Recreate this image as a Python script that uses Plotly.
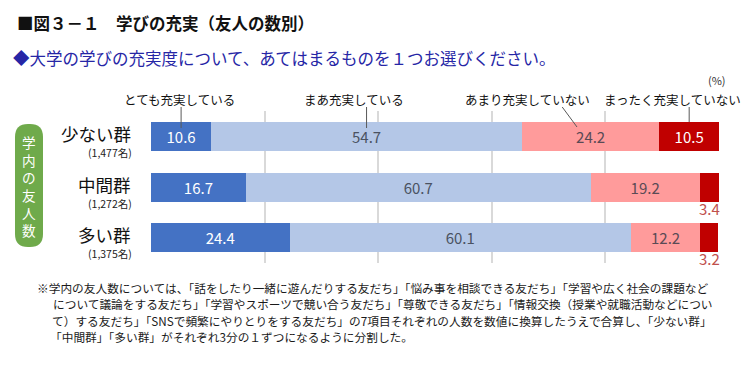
import plotly.graph_objects as go

# ---------------- data ----------------
groups = ["少ない群", "中間群", "多い群"]
group_counts = ["(1,477名)", "(1,272名)", "(1,375名)"]
series_names = ["とても充実している", "まあ充実している", "あまり充実していない", "まったく充実していない"]
very = [10.6, 16.7, 24.4]
somewhat = [54.7, 60.7, 60.1]
not_much = [24.2, 19.2, 12.2]
not_at_all = [10.5, 3.4, 3.2]
x_ticks = [0, 20, 40, 60, 80, 100]

title = "■図３－１　学びの充実（友人の数別）"
subtitle = "◆大学の学びの充実度について、あてはまるものを１つお選びください。"
side_label = "学内の友人数"
footnote = [
    "※学内の友人数については、「話をしたり一緒に遊んだりする友だち」「悩み事を相談できる友だち」「学習や広く社会の課題など",
    "について議論をする友だち」「学習やスポーツで競い合う友だち」「尊敬できる友だち」「情報交換（授業や就職活動などについ",
    "て）する友だち」「SNSで頻繁にやりとりをする友だち」の7項目それぞれの人数を数値に換算したうえで合算し、「少ない群」",
    "「中間群」「多い群」がそれぞれ3分の１ずつになるように分割した。",
]

colors = ["#4472C4", "#B4C7E7", "#FF9B9B", "#C00000"]
text_colors = ["white", "#4a5262", "#5a4a55", "white"]

# ---------------- layout geometry (reference pixel coords; page body has 8px margin) ----------------
OFF = 8
W, H = 756 - OFF, 375 - OFF
PX0, PX1, PY0, PY1 = 151, 719, 111, 263          # plot area in page pixels
L, R, T, B = PX0 - OFF, 756 - PX1, PY0 - OFF, 375 - PY1
PW, PH = PX1 - PX0, PY1 - PY0


def px(xp):
    return (xp - PX0) / PW


def py(yp):
    return (PY1 - yp) / PH


FONT = "Noto Sans CJK JP"

fig = go.Figure()
all_series = [very, somewhat, not_much, not_at_all]
for name, vals, c, tc in zip(series_names, all_series, colors, text_colors):
    texts = [f"{v:.1f}" if v >= 5 else "" for v in vals]
    fig.add_trace(go.Bar(
        y=groups, x=vals, name=name, orientation="h",
        marker=dict(color=c, line=dict(width=0)),
        text=texts, textposition="inside", insidetextanchor="middle",
        textfont=dict(family=FONT, size=15, color=tc),
        hoverinfo="skip",
    ))

annotations = []
# small values below bars
for g, v in zip(groups, not_at_all):
    if v < 5:
        annotations.append(dict(x=100 - v / 2, y=g, xref="x", yref="y", text=f"{v:.1f}",
                                showarrow=False, yshift=-21,
                                font=dict(family=FONT, size=15, color="#C0504D")))

# group labels
for g, cnt in zip(groups, group_counts):
    annotations.append(dict(x=px(133), y=g, xref="paper", yref="y", text=g, showarrow=False,
                            xanchor="right", yanchor="middle", yshift=3,
                            font=dict(family=FONT, size=17.5, color="#111111")))
    annotations.append(dict(x=px(134), y=g, xref="paper", yref="y", text=cnt, showarrow=False,
                            xanchor="right", yanchor="middle", yshift=-16,
                            font=dict(family=FONT, size=10.5, color="#222222")))

# header labels for the four categories
label_px = [179, 354, 527, 672]
for name, xp in zip(series_names, label_px):
    annotations.append(dict(x=px(xp), y=py(100), xref="paper", yref="paper", text=name,
                            showarrow=False, xanchor="center", yanchor="middle",
                            font=dict(family=FONT, size=12.5, color="#111111")))

annotations.append(dict(x=px(717), y=py(80), xref="paper", yref="paper", text="(%)",
                        showarrow=False, xanchor="center", yanchor="middle",
                        font=dict(family=FONT, size=11, color="#333333")))

# title & subtitle
annotations.append(dict(x=px(15), y=py(23), xref="paper", yref="paper", text="<b>" + title + "</b>",
                        showarrow=False, xanchor="left", yanchor="middle",
                        font=dict(family=FONT, size=16.5, color="#111111")))
annotations.append(dict(x=px(11), y=py(58), xref="paper", yref="paper", text=subtitle,
                        showarrow=False, xanchor="left", yanchor="middle",
                        font=dict(family=FONT, size=16.5, color="#2626A6")))

# footnote
foot_y = [287, 303, 320, 336]
foot_x = [35, 51, 50, 48]
for line, fy, fx in zip(footnote, foot_y, foot_x):
    annotations.append(dict(x=px(fx), y=py(fy), xref="paper", yref="paper", text=line,
                            showarrow=False, xanchor="left", yanchor="middle",
                            font=dict(family=FONT, size=11.7, color="#1a1a1a")))

# vertical side label (one character per line, single text block)
annotations.append(dict(x=px(29), y=py(186), xref="paper", yref="paper",
                        text="<br>".join(side_label), showarrow=False,
                        xanchor="center", yanchor="middle", align="center",
                        font=dict(family=FONT, size=13.6, color="white")))

shapes = []
# green rounded box
x0, x1, y0, y1, r = 15, 43, 124, 247, 13


def P(xp, yp):
    return f"{px(xp):.5f},{py(yp):.5f}"


path = (f"M {P(x0 + r, y0)} L {P(x1 - r, y0)} Q {P(x1, y0)} {P(x1, y0 + r)} "
        f"L {P(x1, y1 - r)} Q {P(x1, y1)} {P(x1 - r, y1)} L {P(x0 + r, y1)} "
        f"Q {P(x0, y1)} {P(x0, y1 - r)} L {P(x0, y0 + r)} Q {P(x0, y0)} {P(x0 + r, y0)} Z")
shapes.append(dict(type="path", path=path, xref="paper", yref="paper",
                   fillcolor="#6FAA4B", line=dict(width=0), layer="below"))

# leader lines (from header labels to the first row's segments)
c1 = very[0] / 2
c2 = very[0] + somewhat[0] / 2
c3 = very[0] + somewhat[0] + not_much[0] / 2
c4 = 100 - not_at_all[0] / 2
leaders = [(c1, c1, 128), (c2, c2, 128), (c3 - 5, c3 - 2.4, 127), (c4, c4, 122)]
for xa, xb, yb in leaders:
    shapes.append(dict(type="line", xref="x", yref="paper", x0=xa, x1=xb, y0=py(107), y1=py(yb),
                       line=dict(color="#595959", width=1)))

fig.update_layout(
    width=W, height=H, barmode="stack", bargap=0.43,
    margin=dict(l=L, r=R, t=T, b=B),
    paper_bgcolor="white", plot_bgcolor="white",
    showlegend=False,
    xaxis=dict(range=[0, 100], tickvals=x_ticks, showticklabels=False, showgrid=True,
               gridcolor="#D9D9D9", gridwidth=1.5, zeroline=False, showline=False, fixedrange=True),
    yaxis=dict(categoryorder="array", categoryarray=groups, autorange="reversed",
               showticklabels=False, showgrid=False, zeroline=False, showline=False),
    annotations=annotations, shapes=shapes,
    uniformtext=dict(minsize=10, mode="show"),
)

fig.write_html("out.html")
